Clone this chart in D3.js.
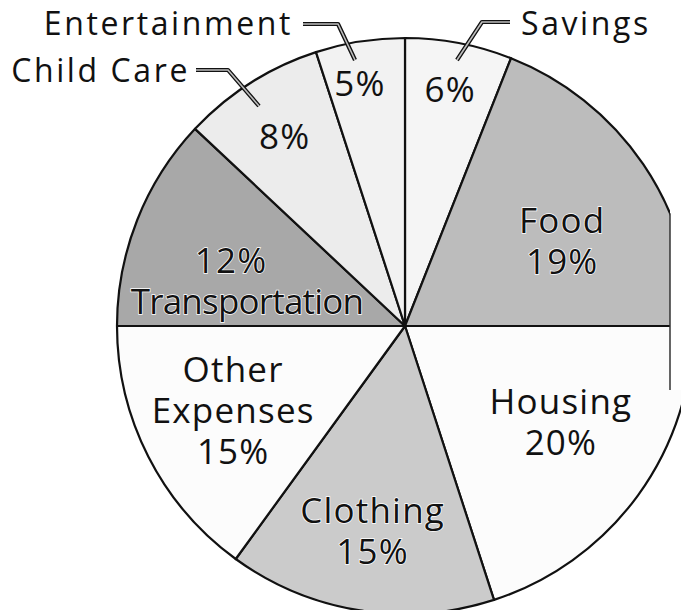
<!DOCTYPE html>
<html>
<head>
<meta charset="utf-8">
<script src="https://cdn.jsdelivr.net/npm/d3@7"></script>
<style>
  html, body { margin: 0; padding: 0; background: #ffffff; }
  svg { display: block; }
  text { font-family: "Open Sans", "DejaVu Sans", sans-serif; fill: #111; }
</style>
</head>
<body>
<svg id="chart" width="681" height="610"></svg>
<script>
// ---- data ----
const categories = ["Savings", "Food", "Housing", "Clothing", "Other Expenses", "Transportation", "Child Care", "Entertainment"];
const percents   = [6, 19, 20, 15, 15, 12, 8, 5];
const fills      = ["#f5f5f5", "#bcbcbc", "#fcfcfc", "#cbcbcb", "#fcfcfc", "#a8a8a8", "#ececec", "#f2f2f2"];
// label lines shown inside each slice
const insideLabels = [
  ["6%"], ["Food", "19%"], ["Housing", "20%"], ["Clothing", "15%"],
  ["Other", "Expenses", "15%"], ["12%", "Transportation"], ["8%"], ["5%"]
];
// outside callout names (slices with a leader line)
const callouts = ["Savings", "Child Care", "Entertainment"];

// ---- layout ----
const W = 681, H = 610;
const cx = 405, cy = 326, R = 288;
const svg = d3.select("#chart");

const pie = d3.pie().sort(null).value(d => d).startAngle(0).endAngle(2 * Math.PI);
const arcs = pie(percents);
const arc = d3.arc().innerRadius(0).outerRadius(R);

// clip: the scan cuts the right edge of the pie
const clipX = 670, clipBottom = 390;
svg.append("clipPath").attr("id", "cut")
  .append("path")
  .attr("d", `M0,0 H${clipX} V${clipBottom} H${W} V${H} H0 Z`);

const slices = svg.append("g").attr("clip-path", "url(#cut)")
  .append("g").attr("transform", `translate(${cx},${cy})`);

slices.selectAll("path.slice")
  .data(arcs)
  .join("path")
  .attr("class", "slice")
  .attr("d", arc)
  .attr("fill", (d, i) => fills[i])
  .attr("stroke", "#111")
  .attr("stroke-width", 2.2)
  .attr("stroke-linejoin", "round");

// vertical cut edge
const yTopCut = cy - Math.sqrt(R * R - (clipX - cx) * (clipX - cx));
svg.append("line")
  .attr("x1", clipX).attr("x2", clipX)
  .attr("y1", yTopCut).attr("y2", clipBottom)
  .attr("stroke", "#333").attr("stroke-width", 1.5);

const g = svg.append("g").attr("transform", `translate(${cx},${cy})`);

// ---- inside labels: placed by angle offset (degrees) / radius fraction ----
const labelR    = [0.837, 0.62, 0.635, 0.719, 0.665, 0.594, 0.78, 0.858];
const labelDDeg = [0, 5.9, -4.5, 0, 0.8, -6.3, 0, -1.5];
const lineDx    = [[0], [0, 0], [0, 0], [0, 0], [0, 0, 0], [-9, 7], [0], [0]];
const lineGap   = 41;
const fontSize  = 35;

arcs.forEach((a, i) => {
  const mid = (a.startAngle + a.endAngle) / 2 + labelDDeg[i] * Math.PI / 180;
  const r = R * labelR[i];
  const x = r * Math.sin(mid);
  const y = -r * Math.cos(mid);
  const lines = insideLabels[i];
  const dark = (i === 1 || i === 3 || i === 5);
  const t = g.append("text")
    .attr("text-anchor", "middle")
    .attr("font-size", fontSize)
    .attr("stroke", dark ? "#ffffff" : "none")
    .attr("stroke-width", 1.4)
    .attr("paint-order", "stroke");
  lines.forEach((s, k) => {
    t.append("tspan")
      .attr("x", x + lineDx[i][k])
      .attr("y", y + (k - (lines.length - 1) / 2) * lineGap + fontSize * 0.36)
      .attr("letter-spacing", s === "Transportation" ? -0.8 : 1.2)
      .text(s);
  });
});

// ---- callouts with leader lines ----
const calloutSpec = {
  "Savings":       { tx: 521, ty: 34.5, anchor: "start", pts: [[510, 22], [482, 22], [457, 60]] },
  "Entertainment": { tx: 293, ty: 34.5, anchor: "end",   pts: [[303, 24], [338, 24], [355, 60]] },
  "Child Care":    { tx: 190, ty: 82,   anchor: "end",   pts: [[196, 70], [228, 70], [259, 106]] }
};
callouts.forEach(name => {
  const s = calloutSpec[name];
  const line = d3.line();
  svg.append("path").attr("d", line(s.pts))
    .attr("fill", "none").attr("stroke", "#111").attr("stroke-width", 4.2)
    .attr("stroke-linejoin", "round");
  svg.append("path").attr("d", line(s.pts))
    .attr("fill", "none").attr("stroke", "#bdbdbd").attr("stroke-width", 1.6)
    .attr("stroke-linejoin", "round");
  svg.append("text")
    .attr("x", s.tx).attr("y", s.ty)
    .attr("text-anchor", s.anchor)
    .attr("font-size", 32)
    .attr("letter-spacing", 2.6)
    .text(name);
});
</script>
</body>
</html>
